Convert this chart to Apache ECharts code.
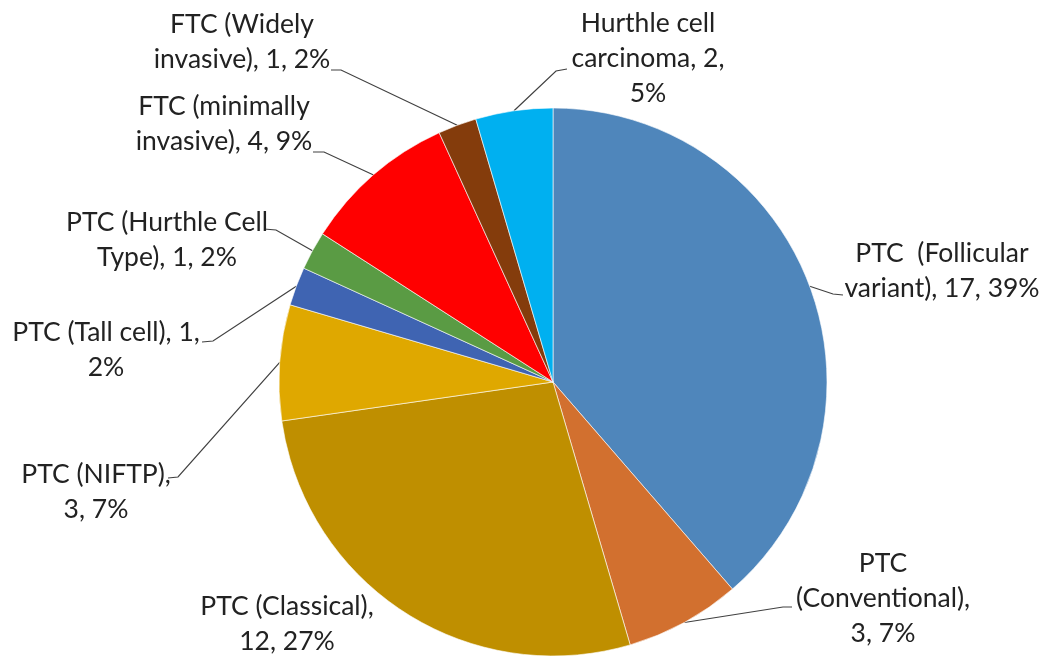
<!DOCTYPE html>
<html>
<head>
<meta charset="utf-8">
<script src="https://cdn.jsdelivr.net/npm/echarts@6/dist/echarts.min.js"></script>
<style>
  html, body { margin: 0; padding: 0; background: #fff; }
  #chart { width: 1058px; height: 659px; }
</style>
</head>
<body>
<div id="chart"></div>
<script>
// ---- data ----
const categories = [
  'PTC  (Follicular variant)',
  'PTC (Conventional)',
  'PTC (Classical)',
  'PTC (NIFTP)',
  'PTC (Tall cell)',
  'PTC (Hurthle Cell Type)',
  'FTC (minimally invasive)',
  'FTC (Widely invasive)',
  'Hurthle cell carcinoma'
];
const counts = [17, 3, 12, 3, 1, 1, 4, 1, 2];
const percents = ['39%', '7%', '27%', '7%', '2%', '2%', '9%', '2%', '5%'];
// label text as laid out (line breaks) in the reference
const labelTexts = [
  'PTC  (Follicular\nvariant), 17, 39%',
  'PTC\n(Conventional),\n3, 7%',
  'PTC (Classical),\n12, 27%',
  'PTC (NIFTP),\n3, 7%',
  'PTC (Tall cell), 1,\n2%',
  'PTC (Hurthle Cell\nType), 1, 2%',
  'FTC (minimally\ninvasive), 4, 9%',
  'FTC (Widely\ninvasive), 1, 2%',
  'Hurthle cell\ncarcinoma, 2,\n5%'
];
const colors = ['#4F86BB', '#D2702F', '#BF8F00', '#DFA800', '#3F64B2', '#5A9B44', '#FF0000', '#843C0C', '#00B0F0'];

// ---- label placement (text block centres, leader elbow and end) ----
const labelPos = [
  [942, 271], [883, 598], [287, 624], [96, 492], [106, 350],
  [167, 240], [224, 124], [242, 42], [648, 58]
];
const leaderElbow = [
  [833, 294], [783, 607], null, [178, 477], [213, 341],
  [276, 230], [324, 152], [341, 70], [556, 71]
];
const leaderEnd = [
  [843, 295], [792, 607], null, [168, 478], [202, 342],
  [264, 229], [313, 152], [331, 70], [567, 69]
];

const chart = echarts.init(document.getElementById('chart'), null, { renderer: 'canvas' });

const data = categories.map((c, i) => ({
  name: c,
  value: counts[i],
  itemStyle: { color: colors[i] },
  label: { formatter: labelTexts[i] },
  labelLine: { show: leaderEnd[i] !== null }
}));

chart.setOption({
  animation: false,
  backgroundColor: '#ffffff',
  series: [{
    type: 'pie',
    center: [553, 382],
    radius: 274,
    startAngle: 90,
    clockwise: true,
    data: data,
    itemStyle: { borderColor: '#ffffff', borderWidth: 0.6 },
    label: {
      show: true,
      position: 'outside',
      overflow: 'none',
      edgeDistance: 0,
      fontFamily: 'Lato',
      fontSize: 26.5,
      lineHeight: 35,
      color: '#222222',
      align: 'center'
    },
    labelLine: {
      show: true,
      lineStyle: { color: '#404040', width: 1.2 }
    },
    labelLayout: function (params) {
      const i = params.dataIndex;
      const res = {
        x: labelPos[i][0],
        y: labelPos[i][1],
        align: 'center',
        verticalAlign: 'middle',
        hideOverlap: false,
        moveOverlap: false
      };
      if (leaderEnd[i] && params.labelLinePoints) {
        const p0 = params.labelLinePoints[0];
        res.labelLinePoints = [[p0[0], p0[1]], leaderElbow[i], leaderEnd[i]];
      }
      return res;
    }
  }]
});
</script>
</body>
</html>
